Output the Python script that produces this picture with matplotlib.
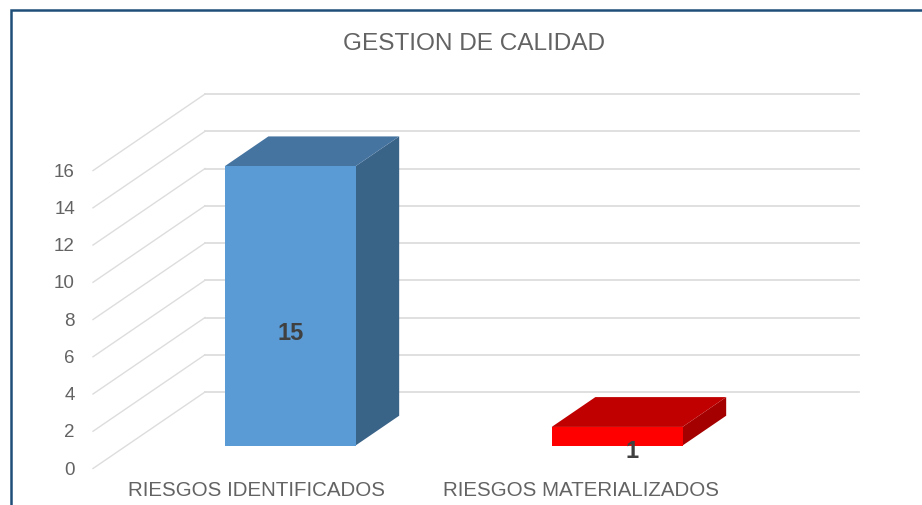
# 3D-looking column chart, the depth is faked with a shear on flat polygons
import matplotlib
matplotlib.use('Agg')
import matplotlib.pyplot as plt
from matplotlib.patches import Polygon
from matplotlib.lines import Line2D

plt.rcParams['font.family'] = ['Liberation Sans', 'DejaVu Sans']

# the data
title = 'GESTION DE CALIDAD'
categories = ['RIESGOS IDENTIFICADOS', 'RIESGOS MATERIALIZADOS']
values = [15, 1]
y_ticks = [0, 2, 4, 6, 8, 10, 12, 14, 16]
front_colors = ['#5B9BD5', '#FF0000']
top_colors = ['#4674A1', '#C00000']
side_colors = ['#3A6388', '#A50000']
label_shift = [(0.5, -19.5), (11, -10)]
name_shift = [0, -2]

# scale of the picture
cat_px = 327.0
val_px = 18.62
depth_dx = 112.0 / cat_px
depth_dy = 76.5 / val_px
bar_width = 0.4
bar_d0 = 0.30
bar_d1 = 0.69
grid_color = '#DDDDDD'
text_color = '#636363'


# cat/value/depth -> position on the flat axes
def project(x, v, d):
    return (x + d * depth_dx, v + d * depth_dy)


fig = plt.figure(figsize=(9.22, 5.06), dpi=100, facecolor='white')
ax = fig.add_axes([0, 0, 1, 1])
left = -0.5 - 93.0 / cat_px
bottom = -36.5 / val_px
ax.set_xlim(left, left + 922.0 / cat_px)
ax.set_ylim(bottom, bottom + 506.0 / val_px)
ax.axis('off')

# gridlines: diagonal on the side wall, then straight along the back wall
x0 = -0.5
x1 = len(categories) - 0.5
for t in y_ticks:
    a = project(x0, t, 0)
    b = project(x0, t, 1)
    c = project(x1, t, 1)
    ax.plot([a[0], b[0]], [a[1], b[1]], color=grid_color, lw=1.0, zorder=1)
    ax.plot([b[0], c[0]], [b[1], c[1]], color=grid_color, lw=1.3, zorder=1)
    ax.annotate(str(t), xy=a, xytext=(-13, -0.5), textcoords='offset points',
                ha='right', va='center', fontsize=13.5, color=text_color)

# the bars
for i, v in enumerate(values):
    l = i - bar_width / 2
    r = i + bar_width / 2
    front = [project(l, 0, bar_d0), project(r, 0, bar_d0), project(r, v, bar_d0), project(l, v, bar_d0)]
    top = [project(l, v, bar_d0), project(r, v, bar_d0), project(r, v, bar_d1), project(l, v, bar_d1)]
    side = [project(r, 0, bar_d0), project(r, 0, bar_d1), project(r, v, bar_d1), project(r, v, bar_d0)]
    ax.add_patch(Polygon(side, closed=True, fc=side_colors[i], ec='none', zorder=2))
    ax.add_patch(Polygon(top, closed=True, fc=top_colors[i], ec='none', zorder=2))
    ax.add_patch(Polygon(front, closed=True, fc=front_colors[i], ec='none', zorder=3))
    ax.annotate(str(v), xy=project(i, v / 2, bar_d0), xytext=label_shift[i], textcoords='offset points',
                ha='center', va='center', fontsize=17, fontweight='bold', color='#404040', zorder=4)

# category names under the floor
for i, name in enumerate(categories):
    ax.annotate(name, xy=project(i, 0, 0), xytext=(name_shift[i], -15), textcoords='offset points',
                ha='center', va='center', fontsize=14.8, color=text_color)

fig.text(473.5 / 922, 1 - 43.5 / 506, title, ha='center', va='center', fontsize=17.6, color=text_color)

# dark blue frame, only top and left show in the crop
frame = '#1F4E79'
fig.add_artist(Line2D([10.5 / 922, 10.5 / 922, 1], [0, 1 - 11 / 506, 1 - 11 / 506], color=frame, lw=1.8,
                      solid_joinstyle='miter'))

fig.savefig('out.png', dpi=100)
